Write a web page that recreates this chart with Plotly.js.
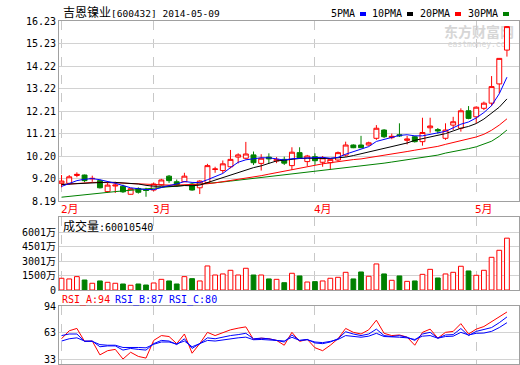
<!DOCTYPE html>
<html><head><meta charset="utf-8">
<script src="https://cdn.plot.ly/plotly-3.0.1.min.js"></script>
<style>html,body{margin:0;padding:0;background:#fff;}#chart{width:520px;height:365px;}</style>
</head><body><div id="chart"></div>
<script>
const dates = ['2014-02-13','2014-02-14','2014-02-17','2014-02-18','2014-02-19','2014-02-20','2014-02-21','2014-02-24','2014-02-25','2014-02-26','2014-02-27','2014-02-28',
'2014-03-03','2014-03-04','2014-03-05','2014-03-06','2014-03-07','2014-03-10','2014-03-11','2014-03-12','2014-03-13','2014-03-14','2014-03-17','2014-03-18','2014-03-19','2014-03-20','2014-03-21','2014-03-24','2014-03-25','2014-03-26','2014-03-27','2014-03-28','2014-03-31',
'2014-04-01','2014-04-02','2014-04-03','2014-04-04','2014-04-08','2014-04-09','2014-04-10','2014-04-11','2014-04-14','2014-04-15','2014-04-16','2014-04-17','2014-04-18','2014-04-21','2014-04-22','2014-04-23','2014-04-24','2014-04-25','2014-04-28','2014-04-29','2014-04-30',
'2014-05-05','2014-05-06','2014-05-07','2014-05-08','2014-05-09'];
const open  = [8.98,8.98,9.33,9.35,9.18,9.10,8.61,8.86,8.85,8.49,8.75,8.70,8.68,8.91,9.30,9.05,9.05,8.95,8.78,9.01,9.60,9.55,9.72,10.15,10.10,10.25,9.87,10.15,9.98,10.05,9.77,10.35,9.95,10.17,9.92,9.90,10.02,10.24,10.69,10.69,10.69,10.99,11.36,11.02,11.15,10.90,11.06,10.84,11.46,11.38,10.99,11.58,11.44,12.22,11.95,12.33,12.56,13.42,14.93];
const high  = [9.35,9.35,9.47,9.37,9.32,9.15,9.00,9.05,8.92,8.75,8.80,8.78,9.02,9.18,9.35,9.15,9.45,9.00,9.12,9.85,9.72,10.00,10.47,10.32,10.83,10.40,10.28,10.32,10.15,10.17,10.59,10.59,10.25,10.32,10.20,10.10,10.40,10.84,10.72,11.10,10.84,11.58,11.40,11.20,11.66,11.10,11.10,11.91,11.91,11.45,11.66,11.95,12.33,12.43,12.42,12.63,13.77,14.57,16.00];
const low   = [8.80,8.92,9.25,9.03,9.05,8.75,8.55,8.55,8.55,8.48,8.52,8.38,8.62,8.88,9.00,8.83,9.03,8.65,8.50,8.98,9.45,9.43,9.65,9.87,10.05,9.80,9.55,9.87,9.88,9.80,9.58,10.08,9.75,9.80,9.72,9.60,9.95,10.17,10.55,10.55,10.66,10.92,11.00,10.95,11.05,10.72,10.80,10.66,11.24,11.20,10.92,11.36,11.29,11.84,11.66,12.25,12.43,13.00,14.64];
const close = [9.08,9.27,9.38,9.10,9.20,8.78,8.90,8.90,8.60,8.74,8.58,8.66,8.95,9.13,9.10,8.90,9.30,8.68,9.08,9.77,9.62,9.85,10.05,10.25,10.29,9.90,10.10,10.07,10.05,9.88,10.37,10.10,10.20,9.99,10.12,10.05,10.35,10.69,10.57,10.57,10.79,11.44,11.06,11.08,11.10,10.96,10.84,11.25,11.54,11.32,11.36,11.73,12.22,11.88,12.38,12.56,13.30,14.56,15.98];
const volume = [1220,1150,1390,1040,700,940,800,700,625,490,625,520,730,1110,940,625,1390,1180,940,2500,1560,1670,2050,1560,2260,1560,1560,1150,1110,760,1740,1460,830,870,940,1220,1320,1840,1150,1875,1430,2710,1670,1010,1460,900,940,1630,2150,1250,1670,1840,2470,1980,1530,2050,3400,4130,5390];
const ma5  = [8.84,8.98,9.10,9.16,9.19,9.14,9.07,8.98,8.88,8.78,8.74,8.70,8.70,8.80,8.88,8.95,9.06,9.02,9.01,9.14,9.28,9.42,9.68,9.92,10.03,10.08,10.12,10.12,10.08,10.02,10.08,10.09,10.12,10.13,10.14,10.10,10.14,10.28,10.40,10.50,10.62,10.85,10.95,11.05,11.12,11.15,11.10,11.10,11.16,11.22,11.30,11.46,11.62,11.72,11.90,12.14,12.45,12.98,13.72];
const ma10 = [8.93,8.95,8.98,9.00,9.02,9.03,9.03,9.02,9.00,8.99,8.95,8.89,8.85,8.85,8.84,8.85,8.88,8.87,8.90,9.01,9.12,9.24,9.35,9.46,9.58,9.68,9.76,9.88,9.98,10.01,10.06,10.09,10.10,10.09,10.08,10.09,10.12,10.15,10.22,10.30,10.38,10.48,10.55,10.62,10.69,10.78,10.90,10.97,11.04,11.10,11.20,11.32,11.44,11.52,11.65,11.85,12.10,12.38,12.75];
const ma20 = [8.92,8.95,8.98,9.00,9.02,9.02,9.02,9.01,8.99,8.97,8.95,8.93,8.91,8.90,8.90,8.90,8.91,8.91,8.92,8.96,9.00,9.05,9.10,9.15,9.19,9.25,9.32,9.39,9.46,9.53,9.60,9.67,9.73,9.79,9.85,9.90,9.95,10.01,10.04,10.07,10.12,10.19,10.25,10.30,10.35,10.40,10.46,10.51,10.56,10.63,10.72,10.80,10.88,10.95,11.05,11.17,11.35,11.58,11.86];
const ma30 = [8.36,8.40,8.44,8.48,8.52,8.55,8.58,8.61,8.64,8.67,8.69,8.71,8.74,8.77,8.80,8.83,8.87,8.90,8.93,8.97,9.00,9.04,9.08,9.12,9.16,9.20,9.24,9.28,9.31,9.35,9.39,9.42,9.46,9.50,9.54,9.57,9.61,9.65,9.69,9.74,9.79,9.84,9.88,9.93,9.98,10.03,10.09,10.14,10.19,10.24,10.33,10.39,10.46,10.53,10.61,10.72,10.86,11.08,11.36];
const rsiA = [56.3,65.5,68.2,53.3,53.7,37.8,42.6,44.1,33.0,40.8,36.0,34.1,54.4,60.0,58.9,50.7,61.8,39.7,50.7,63.7,60.0,63.0,66.6,68.5,70.0,55.5,57.0,56.3,54.4,48.9,63.7,53.3,55.6,46.0,42.6,48.9,56.3,68.2,63.7,61.8,66.6,77.7,62.6,60.0,60.7,58.2,48.9,63.7,67.4,57.0,63.7,64.8,73.7,61.8,67.4,70.4,75.9,81.5,87.1];
const rsiB = [60.0,61.8,61.8,53.3,53.7,47.1,48.1,48.1,43.3,45.2,44.1,43.3,50.7,54.4,53.7,49.6,56.3,45.2,50.7,57.4,56.3,58.2,60.0,61.1,62.6,56.3,57.0,56.3,54.4,52.6,60.7,54.4,55.5,51.5,50.7,52.6,56.3,64.4,61.8,60.0,61.8,67.4,60.0,58.9,60.0,58.1,54.4,61.8,63.7,57.0,60.7,61.1,68.1,60.0,64.8,66.6,69.2,74.8,81.4];
const rsiC = [53.7,56.3,57.4,53.7,53.3,49.6,48.9,48.9,46.3,46.7,46.3,45.9,50.0,52.6,52.6,50.4,53.7,47.1,50.7,54.4,53.7,55.2,56.3,57.4,58.2,55.2,55.5,55.2,54.4,53.7,58.1,54.4,55.2,52.6,51.9,53.3,55.5,60.0,59.3,58.1,59.3,62.6,58.9,58.1,58.1,57.4,55.5,59.3,60.0,57.0,58.9,59.3,63.7,60.7,62.6,62.9,64.8,69.2,74.8];
const priceTicks = [8.19,9.20,10.20,11.21,12.21,13.22,14.22,15.23,16.23];
const volTicks = [0,1500,3001,4501,6001];
const volTickText = ['0','1500万','3001万','4501万','6001万'];
const rsiTicks = [33,63,94];
const monthStarts = ['2014-02-13','2014-03-03','2014-04-01','2014-05-05'];
const monthLabels = ['2月','3月','4月','5月'];
const stockName = '吉恩镍业';
const stockInfo = '[600432] 2014-05-09';
const volName = '成交量';
const volInfo = ':60010540';
const rsiLabels = ['RSI_A:94','RSI_B:87','RSI_C:80'];
const maNames = ['5PMA','10PMA','20PMA','30PMA'];

const RED='#ff0000', GREEN='#008000', BLUE='#0000ff', BLACK='#000000';
const MONO='"DejaVu Sans Mono", "Noto Sans CJK SC", monospace';
const L=59, R=519, T=21, B=364;
const px = x => (x - L) / (R - L);
const py = y => (B - y) / (B - T);

const idx = dates.map((d, i) => i);
const monthIdx = monthStarts.map(d => dates.indexOf(d));
const up = close.map((c, i) => c >= open[i]);

const traces = [
  {type:'candlestick', x:idx, open:open, high:high, low:low, close:close, xaxis:'x', yaxis:'y',
   increasing:{line:{color:RED, width:1}, fillcolor:'#ffffff'},
   decreasing:{line:{color:GREEN, width:1}, fillcolor:GREEN},
   whiskerwidth:0, hoverinfo:'skip'},
  {type:'scatter', mode:'lines', x:idx, y:ma30, line:{color:GREEN, width:1}, xaxis:'x', yaxis:'y', hoverinfo:'skip'},
  {type:'scatter', mode:'lines', x:idx, y:ma20, line:{color:RED, width:1}, xaxis:'x', yaxis:'y', hoverinfo:'skip'},
  {type:'scatter', mode:'lines', x:idx, y:ma10, line:{color:BLACK, width:1}, xaxis:'x', yaxis:'y', hoverinfo:'skip'},
  {type:'scatter', mode:'lines', x:idx, y:ma5, line:{color:BLUE, width:1}, xaxis:'x', yaxis:'y', hoverinfo:'skip'},
  {type:'bar', x:idx, y:volume, width:0.62, xaxis:'x2', yaxis:'y2',
   marker:{color:up.map(u => u ? '#ffffff' : GREEN), line:{color:up.map(u => u ? RED : GREEN), width:1}}, hoverinfo:'skip'},
  {type:'scatter', mode:'lines', x:idx, y:rsiA, line:{color:RED, width:1}, xaxis:'x3', yaxis:'y3', hoverinfo:'skip'},
  {type:'scatter', mode:'lines', x:idx, y:rsiB, line:{color:BLUE, width:1}, xaxis:'x3', yaxis:'y3', hoverinfo:'skip'},
  {type:'scatter', mode:'lines', x:idx, y:rsiC, line:{color:BLUE, width:1}, xaxis:'x3', yaxis:'y3', hoverinfo:'skip'}
];

const xCommon = {range:[-0.33, 59.57], showticklabels:false, ticks:'', tickmode:'array', tickvals:monthIdx,
  showgrid:true, gridcolor:'#c8c8c8', griddash:'dash', gridwidth:1, zeroline:false,
  showline:true, linecolor:'#a0a0a0', linewidth:1, mirror:true, fixedrange:true};
const yCommon = {showgrid:true, gridcolor:'#d2d2d2', gridwidth:1, zeroline:false, showline:true, linecolor:'#a0a0a0',
  linewidth:1, mirror:true, ticks:'', tickmode:'array', fixedrange:true, ticklabeloverflow:'allow',
  tickfont:{family:MONO, size:10, color:'#000'}};

const annotations = [];
annotations.push({xref:'paper', yref:'paper', x:px(61), y:py(13), xanchor:'left', yanchor:'middle',
  text:'<span style="font-size:12px">' + stockName + '</span>' + stockInfo, showarrow:false, font:{family:MONO, size:9.5, color:'#000'}});
const legEnds = [357, 404, 452, 500];
const legColors = [BLUE, BLACK, RED, GREEN];
maNames.forEach((n, i) => annotations.push({xref:'paper', yref:'paper', x:px(legEnds[i]), y:py(14), xanchor:'right', yanchor:'middle', text:n, showarrow:false, font:{family:MONO, size:10, color:'#000'}}));
monthLabels.forEach((m, i) => annotations.push({xref:'x', yref:'paper', x:monthIdx[i], xshift:-3, y:py(209), xanchor:'left', yanchor:'middle', text:m, showarrow:false, font:{family:MONO, size:11, color:RED}}));
annotations.push({xref:'paper', yref:'paper', x:px(61), y:py(226), xanchor:'left', yanchor:'middle',
  text:'<span style="font-size:12px">' + volName + '</span>' + volInfo, showarrow:false, font:{family:MONO, size:10, color:'#000'}});
const rsiX = [60, 113, 167];
const rsiCol = [RED, BLUE, BLUE];
rsiLabels.forEach((t, i) => annotations.push({xref:'paper', yref:'paper', x:px(rsiX[i]), y:py(299.5), xanchor:'left', yanchor:'middle', text:t, showarrow:false, font:{family:MONO, size:10, color:rsiCol[i]}}));

const shapes = [];
legEnds.forEach((e, i) => shapes.push({type:'rect', xref:'paper', yref:'paper', x0:px(e + 3), x1:px(e + 9), y0:py(16), y1:py(12), fillcolor:legColors[i], line:{width:0}}));
shapes.push({type:'rect', xref:'paper', yref:'paper', layer:'below', x0:px(441), x1:px(517), y0:py(38), y1:py(24), line:{width:0}, fillcolor:'rgba(0,0,0,0)',
  label:{text:'<b>东方财富网</b>', font:{family:MONO, size:14, color:'#d6d6d6'}, textposition:'middle center'}});
shapes.push({type:'rect', xref:'paper', yref:'paper', layer:'below', x0:px(441), x1:px(517), y0:py(47), y1:py(39), line:{width:0}, fillcolor:'rgba(0,0,0,0)',
  label:{text:'eastmoney.com', font:{family:MONO, size:8, color:'#d6d6d6'}, textposition:'middle center'}});

const layout = {
  width:520, height:365, margin:{l:L, r:520 - R, t:T, b:365 - B, pad:0},
  paper_bgcolor:'#ffffff', plot_bgcolor:'#ffffff', showlegend:false,
  font:{family:MONO, size:10, color:'#000'},
  boxgap:0.2, boxgroupgap:0.2,
  xaxis:Object.assign({}, xCommon, {anchor:'y', rangeslider:{visible:false}}),
  xaxis2:Object.assign({}, xCommon, {anchor:'y2'}),
  xaxis3:Object.assign({}, xCommon, {anchor:'y3'}),
  yaxis:Object.assign({}, yCommon, {anchor:'x', domain:[py(201), py(21)], range:[8.19, 16.23], tickvals:priceTicks, ticktext:priceTicks.map(v => v.toFixed(2))}),
  yaxis2:Object.assign({}, yCommon, {anchor:'x2', domain:[py(290), py(217)], range:[0, (290 - 217) * 6001 / (290 - 232.3)], tickvals:volTicks, ticktext:volTickText}),
  yaxis3:Object.assign({}, yCommon, {anchor:'x3', domain:[py(364), py(306)], range:[27.3, 94], tickvals:rsiTicks, ticktext:rsiTicks.map(String)}),
  annotations:annotations, shapes:shapes
};
Plotly.newPlot('chart', traces, layout, {displayModeBar:false, staticPlot:true});
</script></body></html>
